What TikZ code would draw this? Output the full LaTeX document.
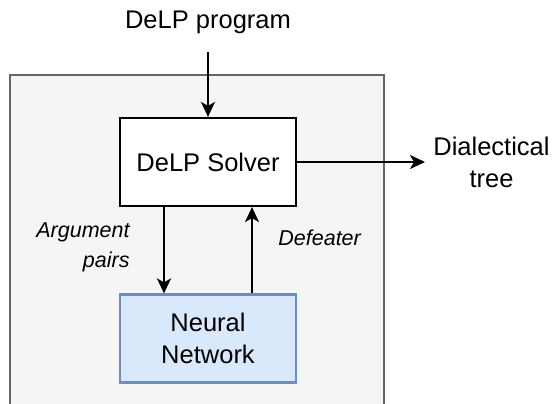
\documentclass[tikz,border=0pt]{standalone}
\usepackage{fontspec}
\setmainfont{Liberation Sans}
\usetikzlibrary{arrows, arrows.meta, positioning}
\definecolor{panelfill}{HTML}{F5F5F5}
\definecolor{paneldraw}{HTML}{666666}
\definecolor{netfill}{HTML}{DAE8FC}
\definecolor{netdraw}{HTML}{6C8EBF}
\begin{document}
\begin{tikzpicture}[x=0.5pt, y=-0.5pt]
				\tikzstyle{Box} = [rectangle, minimum width=88pt, minimum height=44pt, text centered, draw=black, line width=1.1pt, fill=white, font=\fontsize{12.75}{16}\selectfont]
				\tikzstyle{Label} = [inner sep=0pt, font=\fontsize{12.75}{16}\selectfont]
				\tikzstyle{Edge} = [inner sep=0pt, font=\itshape\fontsize{10.75}{15}\selectfont]
				\tikzstyle{arrow} = [line width=1.1pt,->,>={Stealth[length=7.5pt, width=7pt, inset=2pt]}]
				
				\useasboundingbox (0, 0) rectangle (553, 403);
				\fill [panelfill] (10, 75) rectangle (384, 410);
				\draw [paneldraw, line width=1.1pt] (10, 410) -- (10, 75) -- (384, 75) -- (384, 410);
				
				\node (solver) [Box] at (208, 162) {DeLP Solver};
				\node (net) [Box, draw=netdraw, fill=netfill, align=center] at (208, 338.5) {Neural\\Network};
				\node (prog) [Label, anchor=base] at (208, 28) {DeLP program};
				\node (tree) [Label, align=center, anchor=west] at (433, 162) {Dialectical\\tree};
				\node (args) [Edge, align=right, anchor=east] at (130, 247) {Argument\\pairs};
				\node (defeat) [Edge, anchor=base west] at (278, 245.7) {Defeater};
				
				\draw [arrow, shorten <=9pt] (prog.south) -- (solver.north);
				\draw [arrow, shorten >=4pt] (solver.east) -- (solver.east -| tree.west);
				\draw [arrow] ([xshift=-22pt]solver.south) -- ([xshift=-22pt]net.north);
				\draw [arrow] ([xshift=22pt]net.north) -- ([xshift=22pt]solver.south);
			\end{tikzpicture}
\end{document}
